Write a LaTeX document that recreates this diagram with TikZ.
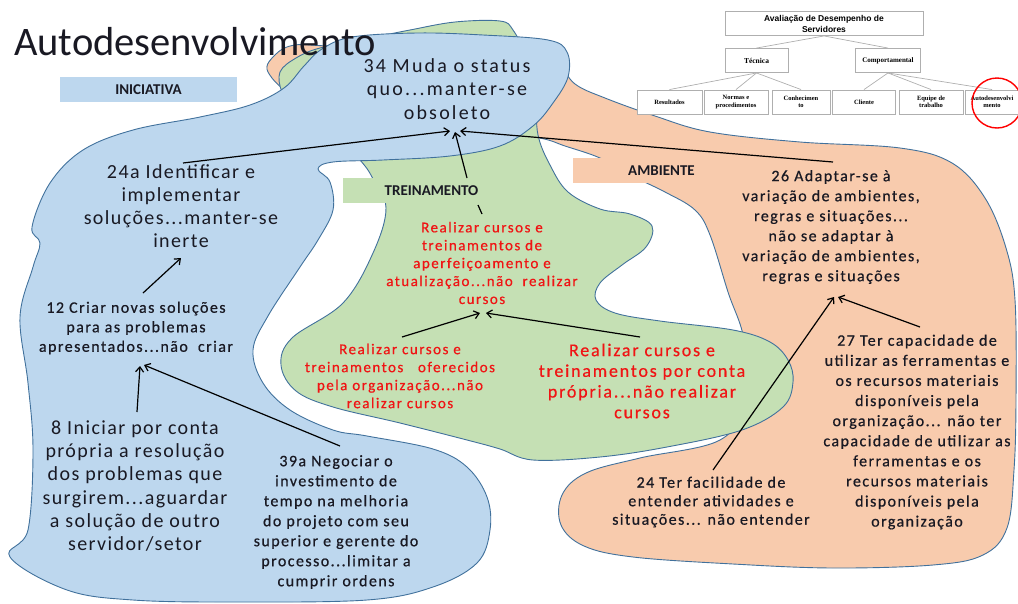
\documentclass[tikz,border=0pt]{standalone}
\usepackage{fontspec}
\setmainfont{Carlito}
\newfontfamily\bigf[LetterSpace=7]{Carlito}
\newfontfamily\bigw[LetterSpace=11]{Carlito}
\newfontfamily\smf[LetterSpace=9,FakeBold=0.6]{Carlito}
\newfontfamily\redf[LetterSpace=10,FakeBold=0.5]{Carlito}
\newfontfamily\orgs{Liberation Sans}
\newfontfamily\orgr{Liberation Serif}
\usetikzlibrary{arrows.meta}
\definecolor{blobblue}{RGB}{189,215,238}
\definecolor{blobgreen}{RGB}{197,224,180}
\definecolor{bloborange}{RGB}{248,203,173}
\definecolor{blobline}{RGB}{65,113,156}
\definecolor{txt}{RGB}{25,25,35}
\definecolor{redtxt}{RGB}{240,20,20}
\definecolor{orgline}{RGB}{175,175,175}
\begin{document}
\begin{tikzpicture}[x=1pt,y=-1pt,
  blob/.style={draw=blobline,line width=0.9pt},
  tagbox/.style={minimum width=177pt,minimum height=25pt,inner sep=0pt,text=txt,font=\fontsize{15}{18}\selectfont\bfseries},
  bigtxt/.style={align=center,text=txt,inner sep=0pt,font=\bigf\fontsize{20}{23.2}\selectfont},
  smtxt/.style={align=center,text=txt,inner sep=0pt,font=\smf\fontsize{16}{20}\selectfont},
  redsm/.style={align=center,text=redtxt,inner sep=0pt,font=\redf\fontsize{15}{17.9}\selectfont},
  redbig/.style={align=center,text=redtxt,inner sep=0pt,font=\redf\fontsize{18}{20.7}\selectfont},
  arr/.style={line width=1.2pt,draw=black,-{Straight Barb[length=5pt,width=8pt]}},
  orgbox/.style={draw=orgline,fill=white,line width=0.9pt,inner sep=0pt,align=center,text=black},
  orgsmall/.style={orgbox,minimum height=24pt,font=\orgr\bfseries\fontsize{6.5}{7.5}\selectfont},
  orgconn/.style={draw=orgline,line width=0.7pt}
]
\useasboundingbox (0,0) rectangle (1018,603);

% ---------- blobs ----------
\fill[bloborange,blob] plot[smooth cycle,tension=0.6] coordinates {
(268,72) (276,54) (295,45) (330,46) (420,48) (520,50) (556,62) (575,84) (605,98) (655,116) (710,132) (800,142) (900,148) (952,163) (985,198) (1006,248) (1015,300) (1016,400) (1014,470) (1007,528) (983,555) (933,565) (833,568) (733,564) (633,557) (584,546) (561,525) (562,495) (586,473) (640,458) (720,440) (745,400) (744,340) (728,292) (710,235) (695,210) (665,192) (630,175) (600,158) (565,146) (540,138) (480,128) (380,115) (300,98)};

\fill[blobgreen,blob] plot[smooth cycle,tension=0.6] coordinates {
(282,92) (280,72) (296,58) (320,48) (370,38) (410,30) (455,22) (500,21) (513,30) (525,55) (535,95) (538,135) (550,165) (568,192) (600,209) (630,214) (652,226) (646,247) (622,265) (600,283) (596,300) (615,313) (660,321) (733,330) (770,342) (788,360) (793,382) (783,407) (742,430) (667,447) (600,457) (533,460) (500,449) (467,440) (400,423) (333,407) (296,391) (281,365) (292,338) (343,303) (373,253) (386,208) (372,177) (360,160) (330,128) (295,108)};

\fill[blobblue,blob] plot[smooth cycle,tension=0.6] coordinates {
(200,117) (250,105) (284,88) (304,66) (322,49) (352,37) (417,33) (483,35) (548,40) (567,52) (568,77) (553,103) (533,126) (500,146) (450,156) (383,160) (333,162) (318,169) (330,182) (333,210) (318,240) (300,267) (268,316) (253,350) (263,383) (290,410) (333,430) (367,436) (433,449) (467,467) (487,497) (490,530) (477,563) (433,587) (367,600) (233,602) (133,600) (67,590) (10,557) (28,530) (33,450) (28,383) (20,317) (33,267) (40,243) (32,227) (50,183) (83,150) (133,130)};

% ---------- title ----------
\node[anchor=base west,inner sep=0pt,text=txt,font=\fontsize{40.5}{45}\selectfont] (title) at (14,55) {Autodesenvolvimento};

% ---------- category tags ----------
\node[tagbox,fill=blobblue] (tagIni) at (148.5,89.5) {INICIATIVA};
\node[tagbox,fill=blobgreen] (tagTre) at (431.5,190.5) {TREINAMENTO};
\node[tagbox,fill=bloborange] (tagAmb) at (661.5,170.5) {AMBIENTE};

% ---------- org chart ----------
\node[orgbox,minimum width=198pt,minimum height=24pt,font=\orgs\bfseries\fontsize{8.5}{11}\selectfont] (oTop) at (824,23.5) {Avaliação de Desempenho de\\Servidores};
\node[orgsmall,minimum width=63pt,font=\orgr\bfseries\fontsize{7.5}{8.5}\selectfont] (oTec) at (756.5,60.5) {Técnica};
\node[orgsmall,minimum width=65pt,font=\orgr\bfseries\fontsize{7}{8}\selectfont] (oCom) at (888,60.5) {Comportamental};
\node[orgsmall,minimum width=65pt] (oRes) at (669.5,102) {Resultados};
\node[orgsmall,minimum width=64pt] (oNor) at (736,102) {Normas e\\procedimentos};
\node[orgsmall,minimum width=58pt] (oCon) at (801,102) {Conhecimen\\to};
\node[orgsmall,minimum width=63pt] (oCli) at (864,102) {Cliente};
\node[orgsmall,minimum width=64pt] (oEqu) at (931,102) {Equipe de\\trabalho};
\node[orgsmall,minimum width=54pt] (oAut) at (992,102) {Autodesenvolvi\\mento};
\draw[orgconn] (oTop.south) -- (oTec.north);
\draw[orgconn] (oTop.south) -- (oCom.north);
\draw[orgconn] (oTec.south) -- (oRes.north);
\draw[orgconn] (oTec.south) -- (oNor.north);
\draw[orgconn] (oTec.south) -- (oCon.north);
\draw[orgconn] (oCom.south) -- (oCli.north);
\draw[orgconn] (oCom.south) -- (oEqu.north);
\draw[orgconn] (oCom.south) -- (oAut.north);
\node[circle,draw=red,line width=1.4pt,minimum size=50pt,inner sep=0pt] (circ) at (997,103) {};

% ---------- texts ----------
\node[bigtxt,font=\bigw\fontsize{20}{23.2}\selectfont] (n34) at (447,89) {34 Muda o status\\quo...manter-se\\obsoleto};
\node[bigtxt] (n24a) at (181,206) {24a Identificar e\\implementar\\soluções...manter-se\\inerte};
\node[smtxt,font=\smf\fontsize{16}{19.5}\selectfont] (n12) at (136,328) {12 Criar novas soluções\\para as problemas\\apresentados...não\ \ criar};
\node[bigtxt] (n8) at (135,486) {8 Iniciar por conta\\própria a resolução\\dos problemas que\\surgirem...aguardar\\a solução de outro\\servidor/setor};
\node[smtxt] (n39a) at (336,522) {39a Negociar o\\investimento de\\tempo na melhoria\\do projeto com seu\\superior e gerente do\\processo...limitar a\\cumprir ordens};
\node[redsm] (ncr) at (482,263) {Realizar cursos e\\treinamentos de\\aperfeiçoamento e\\atualização...não\ \ realizar\\cursos};
\node[redsm,font=\redf\fontsize{15}{18}\selectfont] (nlr) at (400,376) {Realizar cursos e\\treinamentos\ \ \ oferecidos\\pela organização...não\\realizar cursos};
\node[redbig] (nrr) at (642,381) {Realizar cursos e\\treinamentos por conta\\própria...não realizar\\cursos};
\node[smtxt] (n26) at (831,227) {26 Adaptar-se à\\variação de ambientes,\\regras e situações...\\não se adaptar à\\variação de ambientes,\\regras e situações};
\node[smtxt,font=\smf\fontsize{16}{20.1}\selectfont] (n27) at (917,432) {27 Ter capacidade de\\utilizar as ferramentas e\\os recursos materiais\\disponíveis pela\\organização... não ter\\capacidade de utilizar as\\ferramentas e os\\recursos materiais\\disponíveis pela\\organização};
\node[smtxt,font=\smf\fontsize{16}{18.5}\selectfont] (n24) at (711,502) {24 Ter facilidade de\\entender atividades e\\situações... não entender};

% ---------- connector end points ----------
\coordinate (a34L) at (450,131);
\coordinate (a34M) at (455,132);
\coordinate (a34R) at (460,131);
\coordinate (s24a) at (183,163);
\coordinate (sTre) at (467,178);
\coordinate (s26) at (833,162);
\coordinate (s12) at (143,293);
\coordinate (e24a) at (181,258);
\coordinate (s8) at (137,412);
\coordinate (e12a) at (140,366);
\coordinate (s39) at (340,446);
\coordinate (e12b) at (144,365);
\coordinate (slr) at (402,337);
\coordinate (ecr1) at (480,313);
\coordinate (srr) at (640,337);
\coordinate (ecr2) at (486,313);
\coordinate (s24) at (713,470);
\coordinate (e26a) at (834,297);
\coordinate (s27) at (920,327);
\coordinate (e26b) at (838,297);
\coordinate (tickA) at (478,205);
\coordinate (tickB) at (482,214);

% ---------- connectors ----------
\draw[arr] (s24a) -- (a34L);
\draw[arr] (sTre) -- (a34M);
\draw[arr] (s26) -- (a34R);
\draw[arr] (s12) -- (e24a);
\draw[arr] (s8) -- (e12a);
\draw[arr] (s39) -- (e12b);
\draw[arr] (slr) -- (ecr1);
\draw[arr] (srr) -- (ecr2);
\draw[arr] (s24) -- (e26a);
\draw[arr] (s27) -- (e26b);
\draw[line width=1.2pt] (tickA) -- (tickB);
\end{tikzpicture}
\end{document}
